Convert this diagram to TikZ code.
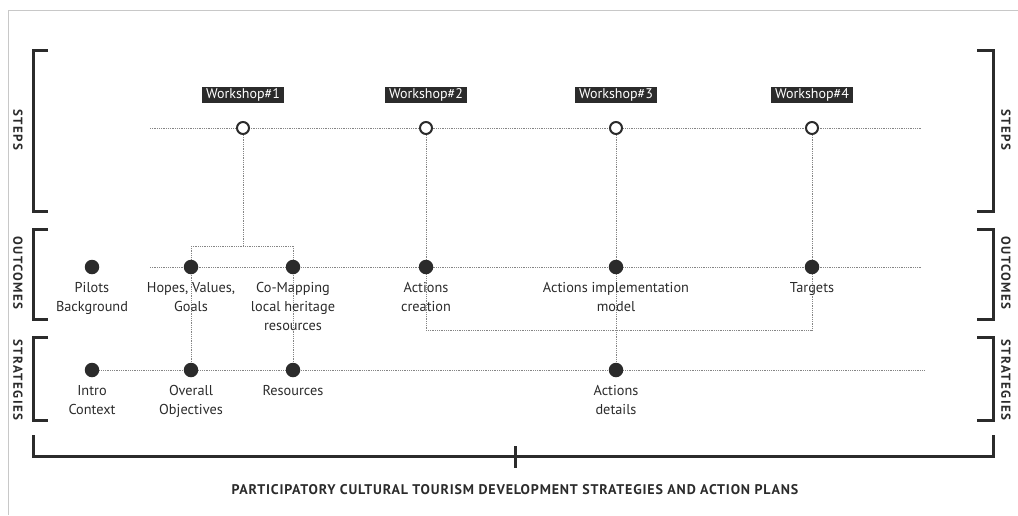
\documentclass[tikz,border=0pt]{standalone}
\usepackage{fontspec}
\setmainfont{PT Sans}
\usepackage{tikz}
\usetikzlibrary{positioning,backgrounds,calc}
\definecolor{ink}{HTML}{2B2B2B}
\definecolor{dotgray}{HTML}{858585}
\definecolor{framegray}{HTML}{C8C8C8}
\tikzset{
  dotline/.style={
    draw=dotgray,
    line width=0.8pt,
    densely dotted
  },
  bracket/.style={
    draw=ink,
    line width=3pt,
    line cap=butt
  },
  fulldot/.style={
    shape=circle,
    fill=ink,
    inner sep=0pt,
    minimum size=14.5pt
  },
  wsdot/.style={
    shape=circle,
    draw=ink,
    fill=white,
    line width=2pt,
    inner sep=0pt,
    minimum size=12pt
  },
  wslabel/.style={
    fill=ink,
    text=white,
    inner xsep=4pt,
    inner ysep=1.5pt,
    font=\fontsize{14}{16}\selectfont
  },
  txt/.style={
    text=ink,
    inner sep=0pt,
    align=center,
    font=\fontsize{14.3}{19}\selectfont
  },
  side/.style={
    text=ink,
    rotate=-90,
    font=\fontsize{13}{15}\selectfont\bfseries\addfontfeatures{LetterSpace=11}
  },
  every picture/.style={
    x=1pt,
    y=-1pt
  }
}
\begin{document}
\begin{tikzpicture}
  \useasboundingbox (0,0) rectangle (1018,515);
  % frame
  \draw[framegray, line width=1pt] (8,515) -- (8,10) -- (1018,10);

  % brackets left / right
  \draw[bracket] (48,50) -- (33,50) -- (33,211) -- (48,211);
  \draw[bracket] (48,229) -- (33,229) -- (33,319) -- (48,319);
  \draw[bracket] (48,337) -- (33,337) -- (33,420) -- (48,420);
  \draw[bracket] (977,50) -- (993,50) -- (993,211) -- (977,211);
  \draw[bracket] (977,229) -- (993,229) -- (993,319) -- (977,319);
  \draw[bracket] (977,337) -- (993,337) -- (993,420) -- (977,420);
  \draw[bracket] (33,435) -- (33,456) -- (993,456) -- (993,435);
  \draw[bracket] (515,446) -- (515,468);

  \node[side] (lsteps) at (18,130) {STEPS};
  \node[side] (lout) at (18,273) {OUTCOMES};
  \node[side] (lstrat) at (18,380) {STRATEGIES};
  \node[side] (rsteps) at (1006,130) {STEPS};
  \node[side] (rout) at (1006,273) {OUTCOMES};
  \node[side] (rstrat) at (1006,380) {STRATEGIES};

  % workshops
  \node[wsdot] (w1) at (243,128) {};
  \node[wsdot] (w2) at (426,128) {};
  \node[wsdot] (w3) at (616,128) {};
  \node[wsdot] (w4) at (812,128) {};
  \node[wslabel] (wl1) at (243,95) {Workshop\#1};
  \node[wslabel] (wl2) at (426,95) {Workshop\#2};
  \node[wslabel] (wl3) at (616,95) {Workshop\#3};
  \node[wslabel] (wl4) at (812,95) {Workshop\#4};

  % outcomes
  \node[fulldot] (pilots) at (92,267) {};
  \node[fulldot] (hopes) at (191,267) {};
  \node[fulldot] (comap) at (293,267) {};
  \node[fulldot] (actcr) at (426,267) {};
  \node[fulldot] (actimp) at (616,267) {};
  \node[fulldot] (targets) at (812,267) {};
  \node[txt, below=8pt of pilots] (pilotst) {Pilots\\Background};
  \node[txt, below=8pt of hopes] (hopest) {Hopes, Values,\\Goals};
  \node[txt, below=8pt of comap] (comapt) {Co-Mapping\\local heritage\\resources};
  \node[txt, below=8pt of actcr] (actcrt) {Actions\\creation};
  \node[txt, below=8pt of actimp] (actimpt) {Actions implementation\\model};
  \node[txt, below=8pt of targets] (targetst) {Targets};

  % strategies
  \node[fulldot] (intro) at (92,370) {};
  \node[fulldot] (overall) at (191,370) {};
  \node[fulldot] (resources) at (293,370) {};
  \node[fulldot] (actdet) at (616,370) {};
  \node[txt, below=8pt of intro] (introt) {Intro\\Context};
  \node[txt, below=8pt of overall] (overallt) {Overall\\Objectives};
  \node[txt, below=8pt of resources] (resourcest) {Resources};
  \node[txt, below=8pt of actdet] (actdett) {Actions\\details};

  \node[text=ink, font=\fontsize{14}{16}\selectfont\bfseries\addfontfeatures{LetterSpace=6}] (title) at (515,490)
    {PARTICIPATORY CULTURAL TOURISM DEVELOPMENT STRATEGIES AND ACTION PLANS};

  \coordinate (stepsa) at (150,128);
  \coordinate (stepsb) at (922,128);
  \coordinate (outa) at (150,267);
  \coordinate (outb) at (922,267);
  \coordinate (strb) at (925,370);
  \coordinate (fork) at (243,246);
  \coordinate (loop) at (426,330);

  \begin{scope}[on background layer]
    \draw[dotline] (stepsa) -- (stepsb);
    \draw[dotline] (outa) -- (outb);
    \draw[dotline] (intro) -- (strb);
    \draw[dotline] (w1) -- (fork);
    \draw[dotline] (hopes |- fork) -- (comap |- fork);
    \draw[dotline] (hopes |- fork) -- (overall);
    \draw[dotline] (comap |- fork) -- (resources);
    \draw[dotline] (w2) -- (actcr) -- (actcr |- loop) -- (targets |- loop) -- (targets);
    \draw[dotline] (w3) -- (actimp) -- (actdet);
    \draw[dotline] (w4) -- (targets);
  \end{scope}
\end{tikzpicture}
\end{document}
